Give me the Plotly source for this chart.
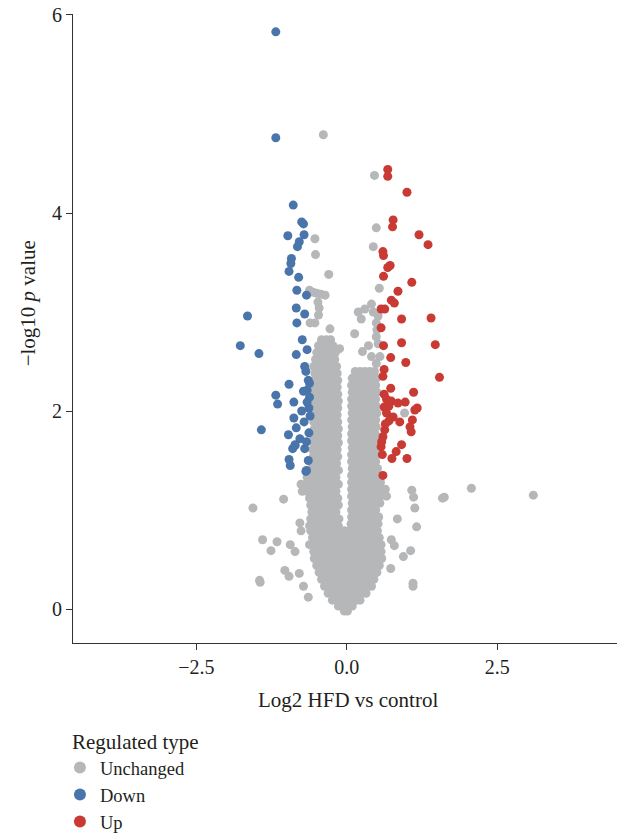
import plotly.graph_objects as go

# ---------------- data ----------------
# Down-regulated (blue)
down_x = [-1.18, -1.18, -0.89, -0.75, -0.72, -0.98, -0.71, -0.79, -0.82, -0.92, -0.93, -0.96,
          -0.80, -0.83, -0.67, -0.84, -0.70, -1.65, -0.83, -1.77, -1.46, -0.74, -0.66, -0.84,
          -0.70, -0.68, -0.64, -0.96, -0.72, -0.66, -1.18, -1.15, -0.88, -0.66, -0.88, -1.42,
          -0.84, -0.97, -0.78, -0.86, -0.90, -0.70, -0.96, -0.94, -0.64, -0.68, -0.71, -0.86,
          -0.67, -0.67, -0.62, -0.62, -0.63, -0.61, -0.63, -0.75]
down_y = [5.83, 4.76, 4.08, 3.91, 3.89, 3.77, 3.78, 3.71, 3.66, 3.54, 3.49, 3.41,
          3.35, 3.22, 3.17, 3.04, 2.98, 2.96, 2.89, 2.66, 2.58, 2.72, 2.62, 2.57,
          2.45, 2.40, 2.31, 2.27, 2.20, 2.21, 2.16, 2.07, 2.09, 2.09, 1.93, 1.81,
          1.83, 1.76, 1.72, 1.65, 1.62, 1.62, 1.51, 1.45, 1.50, 1.39, 1.89, 1.66,
          1.69, 1.40, 2.28, 2.14, 2.03, 1.95, 1.78, 2.00]

# Up-regulated (red)
up_x = [0.68, 0.68, 1.00, 0.77, 0.76, 1.20, 1.35, 0.60, 0.61, 0.72, 0.68, 0.61, 1.08,
        0.85, 0.74, 0.79, 0.57, 0.63, 0.91, 1.40, 0.57, 0.91, 1.47, 0.61, 0.73, 0.98,
        0.62, 0.60, 1.54, 0.73, 1.11, 0.66, 0.74, 0.85, 0.97, 1.17, 1.13, 0.66, 0.77,
        0.88, 1.09, 1.05, 1.07, 0.63, 0.60, 0.57, 0.59, 0.91, 0.82, 0.75, 1.00, 0.60,
        0.62, 0.70, 0.62, 0.70, 0.58, 0.64]
up_y = [4.44, 4.37, 4.21, 3.93, 3.86, 3.78, 3.68, 3.61, 3.57, 3.47, 3.45, 3.36, 3.30,
        3.21, 3.12, 3.09, 3.03, 3.03, 2.93, 2.94, 2.84, 2.69, 2.67, 2.66, 2.54, 2.49,
        2.42, 2.35, 2.34, 2.23, 2.19, 2.12, 2.10, 2.08, 2.09, 2.03, 2.01, 1.98, 1.94,
        1.89, 1.91, 1.84, 1.79, 1.81, 1.74, 1.64, 1.56, 1.66, 1.59, 1.52, 1.52, 1.35,
        2.17, 2.05, 2.04, 1.90, 1.69, 1.87]

# Unchanged (grey) - scattered points
grey_x = [-0.39, 0.46, 0.49, 0.44, 0.54, -0.53, -0.52, -0.30, -0.62, -0.56, -0.50, -0.43,
          -0.36, -0.46, -0.47, -0.53, -0.61, -0.28, -0.48, 0.19, 0.30, 0.41, 0.44, 0.52,
          0.49, 0.13, 0.26, -0.12, 0.49, 0.52, 0.55, 0.41, 0.49, 0.50, 0.24, 0.36,
          -1.56, -1.05, -0.78, -0.76, -1.40, -1.16, -1.26, -0.94, -0.86, -1.03, -0.96,
          -0.79, -1.45, -1.44, -0.72, -0.64, 1.08, 1.11, 1.62, 1.59, 1.13, 0.84, 1.16,
          0.74, 0.79, 1.06, 0.94, 0.73, 1.10, 1.10, 2.07, 3.10, 0.96]
grey_y = [4.79, 4.38, 3.85, 3.66, 3.24, 3.74, 3.58, 3.38, 3.22, 3.20, 3.19, 3.18,
          3.17, 3.04, 2.97, 2.89, 2.89, 2.83, 3.10, 3.00, 3.03, 3.08, 3.00, 2.96,
          2.89, 2.78, 2.60, 2.63, 2.75, 2.68, 2.55, 2.55, 2.48, 2.82, 2.93, 2.66,
          1.02, 1.11, 0.87, 0.79, 0.70, 0.68, 0.59, 0.65, 0.58, 0.39, 0.33,
          0.36, 0.29, 0.27, 0.23, 0.12, 1.20, 1.13, 1.13, 1.12, 1.02, 0.91, 0.83,
          0.70, 0.64, 0.59, 0.53, 0.41, 0.23, 0.26, 1.22, 1.15, 1.98]

# Unchanged (grey) - dense core, read row by row: (-log10 p, [log2 FC values])
grey_core_rows = [
    (2.72, [-0.42, -0.34, -0.27]),
    (2.66, [-0.47, -0.39, -0.31, -0.23]),
    (2.59, [-0.50, -0.42, -0.34, -0.26, -0.19]),
    (2.52, [-0.52, -0.44, -0.36, -0.28, -0.20]),
    (2.45, [-0.55, -0.47, -0.39, -0.31, -0.23, -0.17]),
    (2.38, [-0.53, -0.45, -0.37, -0.29, -0.21, -0.16]),
    (2.31, [-0.54, -0.46, -0.38, -0.30, -0.22, -0.15]),
    (2.24, [-0.56, -0.48, -0.40, -0.32, -0.24, -0.16]),
    (2.17, [-0.55, -0.47, -0.39, -0.31, -0.23, -0.15]),
    (2.10, [-0.54, -0.46, -0.38, -0.30, -0.22, -0.14]),
    (2.03, [-0.56, -0.48, -0.40, -0.32, -0.24, -0.15]),
    (1.96, [-0.57, -0.49, -0.41, -0.33, -0.25, -0.16]),
    (1.89, [-0.55, -0.47, -0.39, -0.31, -0.23, -0.15]),
    (1.82, [-0.54, -0.46, -0.38, -0.30, -0.22, -0.14]),
    (1.75, [-0.56, -0.48, -0.40, -0.32, -0.24, -0.15]),
    (1.68, [-0.55, -0.47, -0.39, -0.31, -0.23, -0.14]),
    (1.61, [-0.57, -0.49, -0.41, -0.33, -0.25, -0.16]),
    (1.54, [-0.56, -0.48, -0.40, -0.32, -0.24, -0.15]),
    (1.47, [-0.58, -0.50, -0.42, -0.34, -0.26, -0.17]),
    (1.40, [-0.60, -0.52, -0.44, -0.36, -0.28, -0.20, -0.14]),
    (1.33, [-0.66, -0.58, -0.50, -0.42, -0.34, -0.26, -0.18]),
    (1.26, [-0.76, -0.68, -0.60, -0.52, -0.44, -0.36, -0.28, -0.20, -0.14]),
    (1.19, [-0.74, -0.66, -0.58, -0.50, -0.42, -0.34, -0.26, -0.18]),
    (1.12, [-0.62, -0.54, -0.46, -0.38, -0.30, -0.22, -0.15]),
    (1.05, [-0.60, -0.52, -0.44, -0.36, -0.28, -0.20, -0.14]),
    (0.98, [-0.58, -0.50, -0.42, -0.34, -0.26, -0.18]),
    (0.91, [-0.60, -0.52, -0.44, -0.36, -0.28, -0.20, -0.13]),
    (0.84, [-0.62, -0.54, -0.46, -0.38, -0.30, -0.22, -0.14]),
    (2.40, [0.14, 0.22, 0.30, 0.38, 0.46]),
    (2.33, [0.09, 0.17, 0.25, 0.33, 0.41, 0.49]),
    (2.26, [0.08, 0.16, 0.24, 0.32, 0.40, 0.48]),
    (2.19, [0.09, 0.17, 0.25, 0.33, 0.41, 0.50]),
    (2.12, [0.08, 0.16, 0.24, 0.32, 0.40, 0.48]),
    (2.05, [0.08, 0.16, 0.24, 0.32, 0.40, 0.49]),
    (1.98, [0.09, 0.17, 0.25, 0.33, 0.41, 0.50]),
    (1.91, [0.08, 0.16, 0.24, 0.32, 0.40, 0.48]),
    (1.84, [0.09, 0.17, 0.25, 0.33, 0.41, 0.49]),
    (1.77, [0.08, 0.16, 0.24, 0.32, 0.40, 0.47]),
    (1.70, [0.08, 0.16, 0.24, 0.32, 0.40, 0.48]),
    (1.63, [0.09, 0.17, 0.25, 0.33, 0.41, 0.49]),
    (1.56, [0.08, 0.16, 0.24, 0.32, 0.40, 0.50]),
    (1.49, [0.08, 0.16, 0.24, 0.32, 0.40, 0.48]),
    (1.42, [0.09, 0.17, 0.25, 0.33, 0.41, 0.51]),
    (1.35, [0.08, 0.16, 0.24, 0.32, 0.40, 0.48, 0.54]),
    (1.28, [0.08, 0.16, 0.24, 0.32, 0.40, 0.48, 0.56]),
    (1.21, [0.08, 0.16, 0.24, 0.32, 0.40, 0.48, 0.56, 0.64]),
    (1.14, [0.08, 0.16, 0.24, 0.32, 0.40, 0.48, 0.56, 0.66]),
    (1.07, [0.09, 0.17, 0.25, 0.33, 0.41, 0.49, 0.55]),
    (1.00, [0.08, 0.16, 0.24, 0.32, 0.40, 0.48]),
    (0.93, [0.08, 0.16, 0.24, 0.32, 0.40, 0.48, 0.53]),
    (0.86, [0.07, 0.15, 0.23, 0.31, 0.39, 0.47, 0.52]),
    (0.79, [-0.60, -0.52, -0.44, -0.36, -0.28, -0.20, -0.12, -0.04, 0.04, 0.12, 0.20, 0.28, 0.36, 0.44, 0.51]),
    (0.72, [-0.57, -0.49, -0.41, -0.33, -0.25, -0.17, -0.09, -0.01, 0.07, 0.15, 0.23, 0.31, 0.39, 0.47, 0.54]),
    (0.65, [-0.62, -0.54, -0.46, -0.38, -0.30, -0.22, -0.14, -0.06, 0.02, 0.10, 0.18, 0.26, 0.34, 0.42, 0.50, 0.57]),
    (0.58, [-0.55, -0.47, -0.39, -0.31, -0.23, -0.15, -0.07, 0.01, 0.09, 0.17, 0.25, 0.33, 0.41, 0.49, 0.57]),
    (0.51, [-0.54, -0.46, -0.38, -0.30, -0.22, -0.14, -0.06, 0.02, 0.10, 0.18, 0.26, 0.34, 0.42, 0.50, 0.58]),
    (0.44, [-0.50, -0.42, -0.34, -0.26, -0.18, -0.10, -0.02, 0.06, 0.14, 0.22, 0.30, 0.38, 0.46, 0.54]),
    (0.37, [-0.46, -0.38, -0.30, -0.22, -0.14, -0.06, 0.02, 0.10, 0.18, 0.26, 0.34, 0.42, 0.50]),
    (0.30, [-0.42, -0.34, -0.26, -0.18, -0.10, -0.02, 0.06, 0.14, 0.22, 0.30, 0.38, 0.45]),
    (0.23, [-0.37, -0.29, -0.21, -0.13, -0.05, 0.03, 0.11, 0.19, 0.27, 0.35, 0.41]),
    (0.16, [-0.31, -0.23, -0.15, -0.07, 0.01, 0.09, 0.17, 0.25, 0.32]),
    (0.09, [-0.24, -0.16, -0.08, 0.00, 0.08, 0.16, 0.22]),
    (0.03, [-0.14, -0.06, 0.02, 0.09]),
    (-0.02, [-0.04, 0.01]),
]

x_ticks = [-2.5, 0.0, 2.5]
x_tick_labels = ["\u22122.5", "0.0", "2.5"]
y_ticks = [0, 2, 4, 6]
y_tick_labels = ["0", "2", "4", "6"]

# ---------------- build ----------------
core_x = [x for y, xs in grey_core_rows for x in xs]
core_y = [y for y, xs in grey_core_rows for _ in xs]
all_grey_x = core_x + grey_x
all_grey_y = core_y + grey_y

FONT = "Liberation Serif, Times New Roman, serif"
TXT = "#231f20"
GREY = "#b6b7b9"
BLUE = "#4a75ab"
RED = "#c83a33"
MS = 9

fig = go.Figure()
fig.add_trace(go.Scatter(x=all_grey_x, y=all_grey_y, mode="markers", name="Unchanged",
                         marker=dict(color=GREY, size=MS, line=dict(width=0))))
fig.add_trace(go.Scatter(x=down_x, y=down_y, mode="markers", name="Down",
                         marker=dict(color=BLUE, size=MS, line=dict(width=0))))
fig.add_trace(go.Scatter(x=up_x, y=up_y, mode="markers", name="Up",
                         marker=dict(color=RED, size=MS, line=dict(width=0))))

axis_common = dict(showgrid=False, zeroline=False, showline=True, linecolor="#333333",
                   linewidth=1.2, ticks="outside", ticklen=6, tickwidth=1.2,
                   tickcolor="#333333", ticklabeloverflow="allow",
                   tickfont=dict(family=FONT, size=20, color=TXT))

fig.update_layout(
    width=617, height=837,
    margin=dict(l=73, r=0, t=14, b=194, autoexpand=False),
    plot_bgcolor="white", paper_bgcolor="white",
    xaxis=dict(range=[-4.55, 4.49], tickvals=x_ticks, ticktext=x_tick_labels, **axis_common),
    yaxis=dict(range=[-0.343, 6.01], tickvals=y_ticks, ticktext=y_tick_labels, **axis_common),
    showlegend=True,
    legend=dict(x=-0.024, xanchor="left", y=-0.1685, yanchor="top",
                font=dict(family=FONT, size=18.5, color=TXT),
                tracegroupgap=0, itemsizing="constant", bgcolor="rgba(0,0,0,0)"),
    annotations=[
        dict(text="Log2 HFD vs control", xref="paper", yref="paper", x=0.505, y=-0.0906,
             xanchor="center", yanchor="middle", showarrow=False,
             font=dict(family=FONT, size=21, color=TXT)),
        dict(text="\u2212log10 <i>p</i> value", xref="paper", yref="paper", x=-0.0827, y=0.54,
             xanchor="center", yanchor="middle", textangle=-90, showarrow=False,
             font=dict(family=FONT, size=21, color=TXT)),
        dict(text="Regulated type", xref="paper", yref="paper", x=-0.005, y=-0.158,
             xanchor="left", yanchor="middle", showarrow=False,
             font=dict(family=FONT, size=21, color=TXT)),
    ],
)

# remove the default page margin so the 617x837 figure fills the window exactly
fig.write_html("out.html", config={"displayModeBar": False},
               post_script="document.body.style.margin='0';document.body.style.overflow='hidden';")
